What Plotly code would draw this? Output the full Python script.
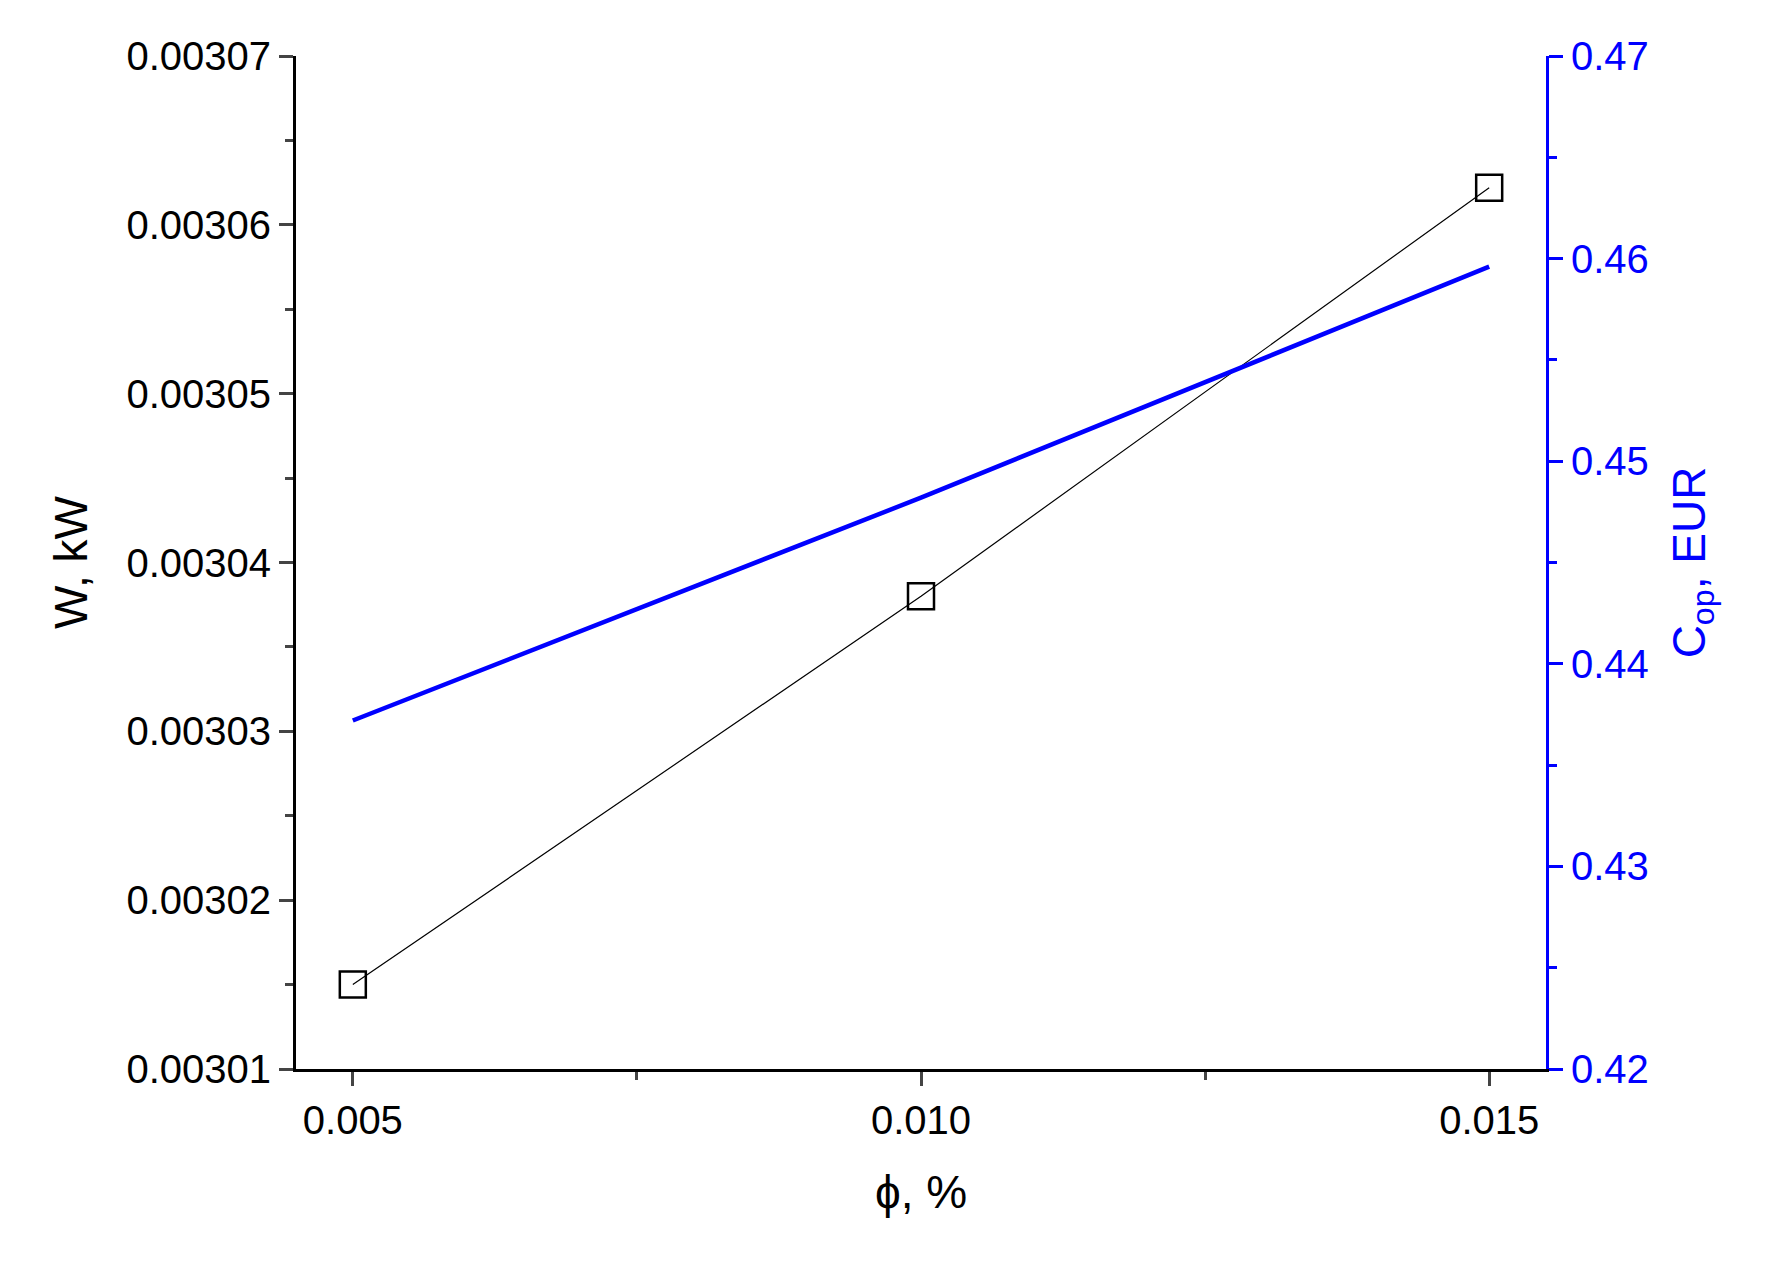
import plotly.graph_objects as go

phi = [0.005, 0.010, 0.015]
power_kw = [0.003015, 0.003038, 0.0030622]
cost_eur = [0.4372, 0.4482, 0.4596]

w_ticks = [0.00301, 0.00302, 0.00303, 0.00304, 0.00305, 0.00306, 0.00307]
c_ticks = [0.42, 0.43, 0.44, 0.45, 0.46, 0.47]

font = "Liberation Sans, Arial, sans-serif"

fig = go.Figure()
fig.add_trace(go.Scatter(
    x=phi, y=power_kw, mode="lines+markers",
    line={"color": "black", "width": 1.2},
    marker={"symbol": "square-open", "size": 26, "color": "black", "line": {"width": 2.5}},
    showlegend=False,
))
fig.add_trace(go.Scatter(
    x=phi, y=cost_eur, mode="lines", yaxis="y2",
    line={"color": "#0000ff", "width": 4.5},
    showlegend=False,
))

fig.update_layout(
    width=1782, height=1273,
    plot_bgcolor="white", paper_bgcolor="white",
    margin={"l": 288, "r": 244, "t": 48, "b": 212},
    font={"family": font, "size": 40, "color": "black"},
    xaxis={
        "range": [0.0045, 0.0155], "tickvals": phi, "ticktext": ["0.005", "0.010", "0.015"],
        "ticks": "outside", "ticklen": 14, "tickwidth": 3, "showgrid": False, "zeroline": False,
        "showline": True, "linecolor": "black", "linewidth": 3,
        "minor": {"dtick": 0.0025, "ticks": "outside", "ticklen": 8, "tickwidth": 3, "tick0": 0.0025},
        "title": {"text": "ϕ, %", "font": {"size": 46}, "standoff": 35},
    },
    yaxis={
        "range": [0.00301, 0.00307], "tickvals": w_ticks,
        "ticktext": [f"{v:.5f}" for v in w_ticks],
        "ticks": "outside", "ticklen": 14, "tickwidth": 3, "showgrid": False, "zeroline": False,
        "showline": True, "linecolor": "black", "linewidth": 3,
        "minor": {"dtick": 0.000005, "ticks": "outside", "ticklen": 8, "tickwidth": 3},
        "title": {"text": "W, kW", "font": {"size": 46}, "standoff": 25},
    },
    yaxis2={
        "overlaying": "y", "side": "right", "range": [0.42, 0.47], "tickvals": c_ticks,
        "ticktext": [f"{v:.2f}" for v in c_ticks],
        "ticks": "outside", "ticklen": 14, "tickwidth": 3, "tickcolor": "#0000ff",
        "showgrid": False, "zeroline": False,
        "showline": True, "linecolor": "#0000ff", "linewidth": 3,
        "tickfont": {"color": "#0000ff"},
        "minor": {"dtick": 0.005, "ticks": "outside", "ticklen": 8, "tickwidth": 3, "tickcolor": "#0000ff"},
        "title": {"text": "C<sub>op</sub>, EUR", "font": {"size": 46, "color": "#0000ff"}, "standoff": 25},
    },
)

fig.write_html("out.html")
